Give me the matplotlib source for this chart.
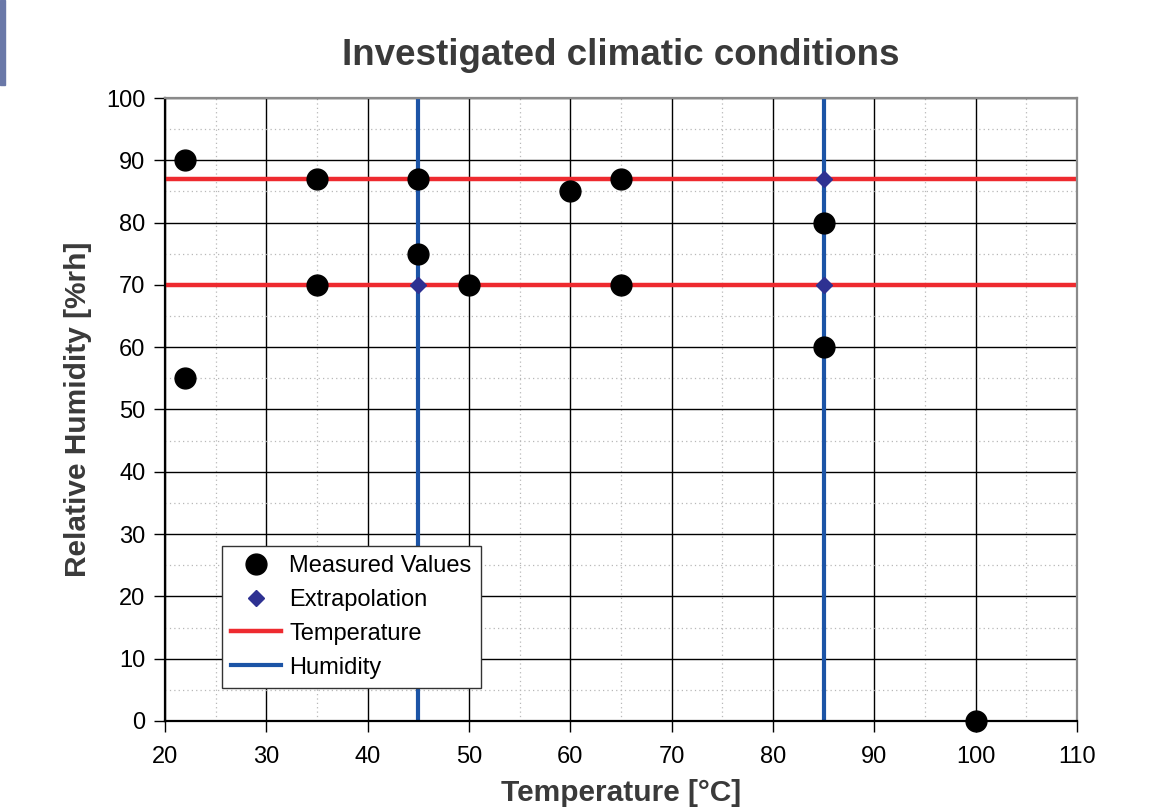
import numpy as np
import matplotlib.pyplot as plt
from matplotlib.patches import Rectangle

plt.rcParams['font.family'] = ['Liberation Sans', 'DejaVu Sans']

# measured climate points
meas_t = [22, 22, 35, 35, 45, 45, 50, 60, 65, 65, 85, 85, 100]
meas_rh = [90, 55, 87, 70, 87, 75, 70, 85, 87, 70, 80, 60, 0]

# extrapolated points
extra_t = [45, 85, 85]
extra_rh = [70, 87, 70]

# constant humidity levels (red) and temperature levels (blue)
rh_levels = [87, 70]
t_levels = [45, 85]

red = '#ee2a2f'
blue = '#1c54a6'
dark = '#3a3a3a'

fig = plt.figure(figsize=(11.52, 8.1), dpi=100)
ax = fig.add_axes([0.1432, 0.1099, 0.7917, 0.7691])

# grids
ax.set_xlim(20, 110)
ax.set_ylim(0, 100)
ax.set_xticks(np.arange(20, 111, 10))
ax.set_yticks(np.arange(0, 101, 10))
ax.set_xticks(np.arange(25, 110, 10), minor=True)
ax.set_yticks(np.arange(5, 100, 10), minor=True)
ax.grid(True, which='major', color='black', lw=1.0, zorder=0)
ax.grid(True, which='minor', color='#b8b8b8', lw=0.9, ls=(0, (1, 2.5)), zorder=0)
ax.set_axisbelow(True)

for i, rh in enumerate(rh_levels):
    ax.axhline(rh, color=red, lw=3.2, zorder=2, label='Temperature' if i == 0 else None)
for i, t in enumerate(t_levels):
    ax.axvline(t, color=blue, lw=3.0, zorder=2, label='Humidity' if i == 0 else None)

ax.plot(meas_t, meas_rh, 'o', color='black', ms=15, ls='none', zorder=4,
        label='Measured Values', clip_on=False)
ax.plot(extra_t, extra_rh, 'D', color='#2e3192', ms=8.5, ls='none', zorder=3,
        label='Extrapolation')

ax.tick_params(which='major', direction='out', length=8, width=1, labelsize=17,
               colors='black')
ax.tick_params(axis='x', pad=10)
ax.tick_params(axis='y', pad=6)
ax.tick_params(which='minor', length=0)
ax.spines['left'].set_color('black')
ax.spines['bottom'].set_color('black')
ax.spines['top'].set_color('#8a8a8a')
ax.spines['right'].set_color('#8a8a8a')
for s in ax.spines.values():
    s.set_linewidth(1.6)

ax.set_xlabel('Temperature [°C]', fontsize=21.5, fontweight='bold', color=dark, labelpad=8)
ax.set_ylabel('Relative Humidity [%rh]', fontsize=21.5, fontweight='bold', color=dark, labelpad=10)
ax.set_title('Investigated climatic conditions', fontsize=26.5, fontweight='bold',
             color=dark, pad=24)

h, l = ax.get_legend_handles_labels()
order = [l.index(n) for n in ['Measured Values', 'Extrapolation', 'Temperature', 'Humidity']]
leg = ax.legend([h[i] for i in order], [l[i] for i in order], loc='lower left',
                bbox_to_anchor=(0.0625, 0.053), fontsize=17, fancybox=False,
                framealpha=1, edgecolor='#333333', handlelength=2.1,
                borderpad=0.4, labelspacing=0.5, handletextpad=0.35,
                borderaxespad=0)
leg.get_frame().set_linewidth(1.0)
leg.set_zorder(5)

# slide artifact on the left edge
fig.patches.append(Rectangle((0, 1 - 85 / 810), 5 / 1152, 85 / 810,
                             transform=fig.transFigure, color='#6a78a8', zorder=0))

fig.savefig('out.png', dpi=100)
